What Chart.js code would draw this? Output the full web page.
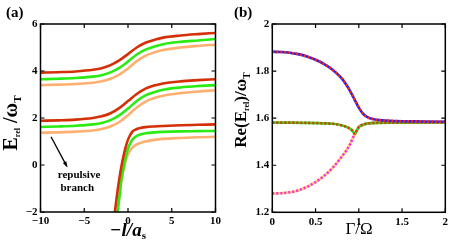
<!DOCTYPE html>
<html><head><meta charset="utf-8">
<script src="https://cdn.jsdelivr.net/npm/chart.js@4.4.1/dist/chart.umd.min.js"></script>
<style>
html,body{margin:0;padding:0;background:#fff;}
#wrap{position:relative;width:452px;height:249px;}
canvas{position:absolute;top:0;}
#ca{left:0;} #cb{left:226px;}
</style></head><body>
<div id="wrap"><canvas id="ca" width="226" height="249"></canvas><canvas id="cb" width="226" height="249"></canvas></div>
<script>
// ---------- Panel (a) data ----------
const xTicksA = [-10, -5, 0, 5, 10];
const xTickLabelsA = ['\u221210', '\u22125', '0', '5', '10'];
const yTicksA = [-2, 0, 2, 4, 6];
const yTickLabelsA = ['\u22122', '0', '2', '4', '6'];

const xUpper = [-10, -8, -6, -4, -3, -2, -1, 0, 1, 2, 3, 4, 6, 8, 10];
const topRed    = [3.93, 3.95, 3.98, 4.05, 4.12, 4.25, 4.45, 4.72, 5.00, 5.20, 5.32, 5.42, 5.51, 5.57, 5.62];
const topGreen  = [3.65, 3.67, 3.70, 3.76, 3.82, 3.94, 4.13, 4.40, 4.70, 4.91, 5.04, 5.14, 5.24, 5.30, 5.36];
const topOrange = [3.40, 3.42, 3.45, 3.50, 3.56, 3.67, 3.85, 4.11, 4.42, 4.65, 4.79, 4.89, 5.00, 5.07, 5.12];
const midRed    = [1.88, 1.90, 1.93, 2.00, 2.07, 2.20, 2.42, 2.72, 3.02, 3.25, 3.38, 3.47, 3.56, 3.61, 3.65];
const midGreen  = [1.62, 1.64, 1.67, 1.73, 1.79, 1.91, 2.11, 2.40, 2.72, 2.96, 3.10, 3.20, 3.30, 3.36, 3.40];
const midOrange = [1.37, 1.39, 1.42, 1.47, 1.53, 1.64, 1.83, 2.12, 2.45, 2.70, 2.85, 2.95, 3.06, 3.13, 3.18];

const xLowRed    = [-1.5, -1.25, -1.0, -0.75, -0.5, -0.25, 0, 0.5, 1, 1.5, 2, 3, 4, 6, 8, 10];
const lowRed     = [-2.0, -1.25, -0.6, -0.05, 0.4, 0.78, 1.08, 1.42, 1.53, 1.58, 1.61, 1.64, 1.66, 1.69, 1.71, 1.73];
const xLowGreen  = [-1.2, -1.0, -0.75, -0.5, -0.25, 0, 0.25, 0.5, 1, 1.5, 2, 3, 4, 6, 8, 10];
const lowGreen   = [-2.0, -1.4, -0.6, -0.1, 0.35, 0.70, 0.92, 1.08, 1.24, 1.31, 1.35, 1.39, 1.41, 1.43, 1.44, 1.45];
const xLowOrange = [-1.2, -1.0, -0.75, -0.45, -0.15, 0.2, 0.5, 1, 1.5, 2, 3, 4, 6, 8, 10];
const lowOrange  = [-2.0, -1.42, -0.66, -0.1, 0.3, 0.6, 0.74, 0.88, 0.95, 1.00, 1.07, 1.11, 1.15, 1.18, 1.20];

// ---------- Panel (b) data ----------
const xTicksB = [0, 0.5, 1, 1.5, 2];
const xTickLabelsB = ['0', '0.5', '1', '1.5', '2'];
const yTicksB = [1.2, 1.4, 1.6, 1.8, 2];
const yTickLabelsB = ['1.2', '1.4', '1.6', '1.8', '2'];

const xUp = [0, 0.1, 0.2, 0.3, 0.4, 0.5, 0.6, 0.7, 0.8, 0.85, 0.9, 0.95, 1.0, 1.05, 1.1, 1.15, 1.2, 1.3, 1.5, 1.75, 2.0];
const yUp = [1.882, 1.881, 1.878, 1.872, 1.862, 1.848, 1.830, 1.805, 1.770, 1.745, 1.715, 1.680, 1.645, 1.618, 1.604, 1.597, 1.593, 1.590, 1.587, 1.586, 1.585];
const xMid = [0, 0.2, 0.4, 0.6, 0.7, 0.8, 0.85, 0.9, 0.93, 0.955, 0.98, 1.0, 1.05, 1.1, 1.2, 1.4, 2.0];
const yMid = [1.581, 1.581, 1.580, 1.578, 1.576, 1.570, 1.564, 1.555, 1.545, 1.533, 1.550, 1.562, 1.572, 1.577, 1.580, 1.581, 1.582];
const xLow = [0, 0.1, 0.2, 0.3, 0.4, 0.5, 0.6, 0.7, 0.8, 0.85, 0.9, 0.93, 0.955, 0.98, 1.0, 1.05, 1.1, 1.2, 1.4, 2.0];
const yLow = [1.280, 1.281, 1.285, 1.293, 1.308, 1.328, 1.355, 1.390, 1.435, 1.460, 1.490, 1.515, 1.533, 1.550, 1.562, 1.572, 1.577, 1.580, 1.581, 1.582];

// ---------- helpers ----------
const SERIF = '"Liberation Serif", "DejaVu Serif", serif';
const pts = (xs, ys) => xs.map((x, i) => ({x, y: ys[i]}));

function drawRich(ctx, parts, cx, cy, rot) {
  ctx.save();
  ctx.translate(cx, cy);
  if (rot) ctx.rotate(-Math.PI / 2);
  let w = 0;
  parts.forEach(p => { ctx.font = p.font; p.w = ctx.measureText(p.t).width; w += p.w; });
  let x = -w / 2;
  ctx.fillStyle = '#000';
  ctx.textBaseline = 'alphabetic';
  ctx.textAlign = 'left';
  parts.forEach(p => { ctx.font = p.font; ctx.fillText(p.t, x, (p.dy || 0) + 6); x += p.w; });
  ctx.restore();
}

function framePlugin(opts) {
  return {
    id: 'frame',
    afterDraw(chart) {
      const ctx = chart.ctx, a = chart.chartArea;
      const xs = chart.scales.x, ys = chart.scales.y;
      ctx.save();
      ctx.strokeStyle = '#000';
      ctx.lineWidth = 1.5;
      ctx.strokeRect(a.left, a.top, a.right - a.left, a.bottom - a.top);
      ctx.lineWidth = 1.2;
      const L = 4;
      ctx.beginPath();
      opts.xTicks.forEach(v => {
        const px = xs.getPixelForValue(v);
        ctx.moveTo(px, a.bottom); ctx.lineTo(px, a.bottom - L);
        ctx.moveTo(px, a.top); ctx.lineTo(px, a.top + L);
      });
      opts.yTicks.forEach(v => {
        const py = ys.getPixelForValue(v);
        ctx.moveTo(a.left, py); ctx.lineTo(a.left + L, py);
        ctx.moveTo(a.right, py); ctx.lineTo(a.right - L, py);
      });
      ctx.stroke();
      ctx.restore();
      if (opts.extra) opts.extra(chart);
    }
  };
}

function tickAxis(min, max, ticks, labels, fitKey, fitVal, padding) {
  return {
    type: 'linear', min, max,
    afterBuildTicks(s) { s.ticks = ticks.map(v => ({value: v})); },
    afterFit(s) { s[fitKey] = fitVal; },
    ticks: {
      color: '#000', padding,
      font: {family: SERIF, size: 11, weight: 'bold'},
      maxRotation: 0, autoSkip: false,
      callback: (v) => labels[ticks.indexOf(v)] ?? ''
    },
    grid: {display: false, drawTicks: false},
    border: {display: false}
  };
}

Chart.defaults.animation = false;

// ---------- Panel (a) ----------
// Chart.js paints the first dataset on top, so lists are top-first.
const RED = '#d42f06', GREEN = '#2aeb12', ORANGE = '#ffb070';
function lineDs(data, color, w) {
  return {data, borderColor: color, borderWidth: w || 2.6, pointRadius: 0, fill: false,
          cubicInterpolationMode: 'monotone', clip: 2};
}
const annotA = {arrowFrom: [-8.8, 1.2], arrowTo: [-7.0, -0.05], text1: ['repulsive', -5.6, -0.42], text2: ['branch', -5.8, -0.98]};

new Chart(document.getElementById('ca'), {
  type: 'line',
  data: {datasets: [
    lineDs(pts(xUpper, topRed), RED), lineDs(pts(xUpper, topGreen), GREEN), lineDs(pts(xUpper, topOrange), ORANGE),
    lineDs(pts(xUpper, midRed), RED), lineDs(pts(xUpper, midGreen), GREEN), lineDs(pts(xUpper, midOrange), ORANGE),
    lineDs(pts(xLowRed, lowRed), RED), lineDs(pts(xLowGreen, lowGreen), GREEN), lineDs(pts(xLowOrange, lowOrange), ORANGE)
  ]},
  options: {
    responsive: false, animation: false,
    layout: {padding: {left: 0, right: 10.5, top: 24, bottom: 0}},
    plugins: {legend: {display: false}, tooltip: {enabled: false}},
    scales: {
      x: tickAxis(-10, 10, xTicksA, xTickLabelsA, 'height', 37, 3),
      y: tickAxis(-2, 6, yTicksA, yTickLabelsA, 'width', 40.5, 3)
    }
  },
  plugins: [framePlugin({xTicks: xTicksA, yTicks: yTicksA, extra(chart) {
    const ctx = chart.ctx, xs = chart.scales.x, ys = chart.scales.y;
    ctx.save();
    ctx.fillStyle = '#000'; ctx.font = 'bold 15px ' + SERIF; ctx.textBaseline = 'alphabetic';
    ctx.fillText('(a)', 6, 17);
    const x0 = xs.getPixelForValue(annotA.arrowFrom[0]), y0 = ys.getPixelForValue(annotA.arrowFrom[1]);
    const x1 = xs.getPixelForValue(annotA.arrowTo[0]), y1 = ys.getPixelForValue(annotA.arrowTo[1]);
    ctx.strokeStyle = '#000'; ctx.lineWidth = 1.3;
    ctx.beginPath(); ctx.moveTo(x0, y0); ctx.lineTo(x1, y1); ctx.stroke();
    const ang = Math.atan2(y1 - y0, x1 - x0);
    ctx.beginPath();
    ctx.moveTo(x1 + 1.5 * Math.cos(ang), y1 + 1.5 * Math.sin(ang));
    ctx.lineTo(x1 - 5 * Math.cos(ang - 0.4), y1 - 5 * Math.sin(ang - 0.4));
    ctx.lineTo(x1 - 5 * Math.cos(ang + 0.4), y1 - 5 * Math.sin(ang + 0.4));
    ctx.closePath(); ctx.fillStyle = '#000'; ctx.fill();
    ctx.font = 'bold 11px ' + SERIF; ctx.textAlign = 'center'; ctx.textBaseline = 'middle';
    ctx.fillText(annotA.text1[0], xs.getPixelForValue(annotA.text1[1]), ys.getPixelForValue(annotA.text1[2]));
    ctx.fillText(annotA.text2[0], xs.getPixelForValue(annotA.text2[1]), ys.getPixelForValue(annotA.text2[2]));
    ctx.restore();
    drawRich(ctx, [
      {t: 'E', font: 'bold 20px ' + SERIF},
      {t: 'rel', font: 'bold 8px ' + SERIF, dy: 3},
      {t: ' /\u03c9', font: 'bold 20px ' + SERIF},
      {t: 'T', font: 'bold 11px ' + SERIF, dy: 4}
    ], 11, 123, true);
    drawRich(ctx, [
      {t: '\u2212l/a', font: 'bold italic 19px ' + SERIF},
      {t: 's', font: 'bold 11px ' + SERIF, dy: 3}
    ], 128, 230, false);
  }})]
});

// ---------- Panel (b) ----------
const BLUE = '#1f1fff', RED2 = '#ff2a00', GREEN2 = '#22dd22', MAG = '#ff2ae6', YEL = '#ffd070';
function baseDs(data, color) {
  return {data, borderColor: color, borderWidth: 2.6, pointRadius: 0, fill: false, cubicInterpolationMode: 'monotone', clip: 2};
}
function dashDs(data, color) {
  return {data, borderColor: color, borderWidth: 2.6, borderDash: [2, 2], pointRadius: 0, fill: false, cubicInterpolationMode: 'monotone', clip: 2};
}
new Chart(document.getElementById('cb'), {
  type: 'line',
  data: {datasets: [
    dashDs(pts(xUp, yUp), RED2), baseDs(pts(xUp, yUp), BLUE),
    dashDs(pts(xMid, yMid), RED2), baseDs(pts(xMid, yMid), GREEN2),
    dashDs(pts(xLow, yLow), MAG), baseDs(pts(xLow, yLow), YEL)
  ]},
  options: {
    responsive: false, animation: false,
    layout: {padding: {left: 0, right: 6.7, top: 24, bottom: 0}},
    plugins: {legend: {display: false}, tooltip: {enabled: false}},
    scales: {
      x: tickAxis(0, 2, xTicksB, xTickLabelsB, 'height', 36.7, 3),
      y: tickAxis(1.2, 2, yTicksB, yTickLabelsB, 'width', 46.3, 3)
    }
  },
  plugins: [framePlugin({xTicks: xTicksB, yTicks: yTicksB, extra(chart) {
    const ctx = chart.ctx;
    ctx.save();
    ctx.fillStyle = '#000'; ctx.font = 'bold 15px ' + SERIF; ctx.textBaseline = 'alphabetic';
    ctx.fillText('(b)', 8, 17);
    ctx.restore();
    drawRich(ctx, [
      {t: 'Re(E', font: 'bold 17px ' + SERIF},
      {t: 'rel', font: 'bold 8px ' + SERIF, dy: 3},
      {t: ')/\u03c9', font: 'bold 17px ' + SERIF},
      {t: 'T', font: 'bold 10px ' + SERIF, dy: 4}
    ], 14, 110, true);
    drawRich(ctx, [
      {t: '\u0393/\u03a9', font: '17px ' + SERIF}
    ], 133, 228, false);
  }})]
});
</script>
</body></html>
